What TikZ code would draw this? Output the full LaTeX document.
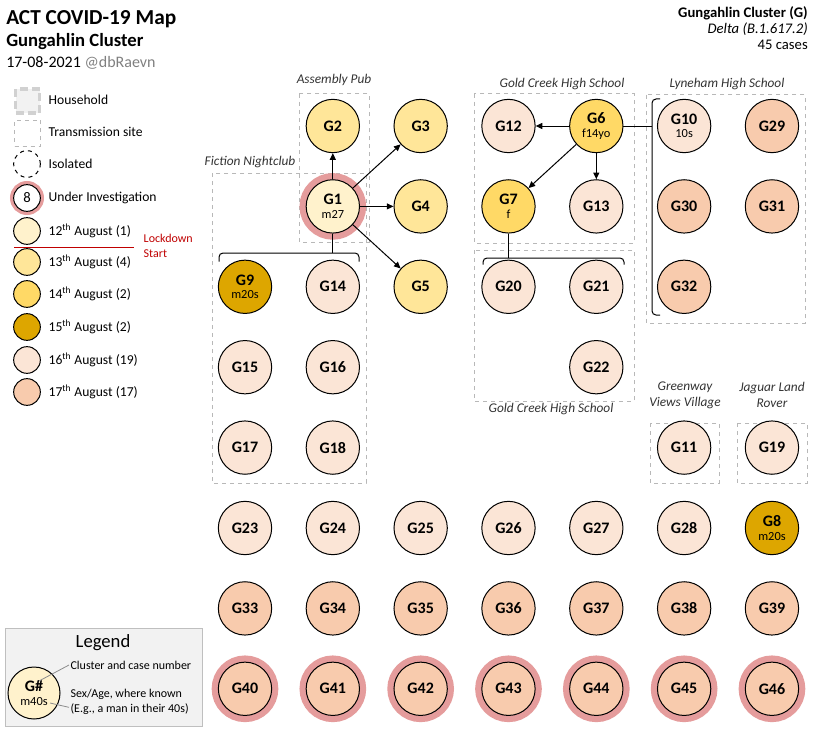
\documentclass[tikz,border=0pt]{standalone}
\usepackage{fontspec}
\setmainfont{Carlito}
\usetikzlibrary{arrows.meta}
\definecolor{c12}{HTML}{FFF2CC}
\definecolor{c13}{HTML}{FFE699}
\definecolor{c14}{HTML}{FFD966}
\definecolor{c15}{HTML}{DDA600}
\definecolor{c16}{HTML}{FBE5D6}
\definecolor{c17}{HTML}{F8CBAD}
\definecolor{ringc}{HTML}{E59C9C}
\definecolor{lockred}{HTML}{C00000}
\newcommand\casetext[2]{#1\\[-1pt]{\normalfont\fontsize{9.3}{10}\selectfont #2}}
\newcommand\myfs[1]{\fontsize{#1}{#1}\selectfont}
\def\xsep{65.87pt}
\def\ysep{60.3pt}

\begin{document}
\begin{tikzpicture}[
    x=0.75pt, y=-0.75pt,
    case/.style={
      circle, draw, line width=0.75pt, minimum size=40pt, inner sep=0pt,
      align=center, font=\fontsize{12}{11}\selectfont\bfseries
    },
    d12/.style={case, fill=c12},
    d13/.style={case, fill=c13},
    d14/.style={case, fill=c14},
    d15/.style={case, fill=c15},
    d16/.style={case, fill=c16},
    d17/.style={case, fill=c17},
    underinv/.style={preaction={draw=ringc, line width=10pt}},
    keydot/.style={circle, draw, line width=0.75pt, minimum size=20pt, inner sep=0pt},
    keytext/.style={anchor=west, font=\fontsize{10.2}{12}\selectfont},
    arrowtip/.style={
      -{Triangle[length=5pt,width=4.5pt]}, line width=0.75pt
    },
    link/.style={line width=0.75pt},
    bracket/.style={line width=0.75pt, rounded corners=3pt},
    site/.style={draw=black!28, dashed, line width=0.75pt},
    sitelabel/.style={font=\fontsize{10}{12}\selectfont\itshape, text=black!80, align=center},
    pointer/.style={draw=black!45, line width=0.6pt}
  ]
    \useasboundingbox[fill=white] (0,0) rectangle (814,735);

    % titles
    \node[anchor=base west, inner sep=0pt, font=\myfs{16}\bfseries] (title) at (6,25) {ACT COVID-19 Map};
    \node[anchor=base west, inner sep=0pt, font=\myfs{14}\bfseries] (subtitle) at (6,47) {Gungahlin Cluster};
    \node[anchor=base west, inner sep=0pt, font=\myfs{12}] (date) at (6,68) {17-08-2021 \textcolor{black!50}{@dbRaevn}};
    \node[anchor=base east, inner sep=0pt, font=\myfs{11}\bfseries] (clname) at (808,18) {Gungahlin Cluster (G)};
    \node[anchor=base east, inner sep=0pt, font=\myfs{11}\itshape] (variant) at (808,34) {Delta (B.1.617.2)};
    \node[anchor=base east, inner sep=0pt, font=\myfs{11}] (count) at (808,50) {45 cases};

    % key
    \node[rectangle, minimum size=18pt, inner sep=0pt, fill=black!5, draw=black!18, line width=2.4pt, dash pattern=on 6pt off 3pt] (keyHouse) at (27.5,101) {};
    \node[rectangle, minimum size=19.5pt, inner sep=0pt, site] (keySite) at (27.5,133) {};
    \node[keydot, dashed] (keyIso) at (27,164) {};
    \node[keydot, fill=white, preaction={draw=ringc, line width=5.5pt}, font=\myfs{11}] (keyInv) at (27,198) {8};
    \node[keydot, fill=c12] (key12) at (27,231) {};
    \node[keydot, fill=c13] (key13) at (27,262) {};
    \node[keydot, fill=c14] (key14) at (27,294) {};
    \node[keydot, fill=c15] (key15) at (27,327) {};
    \node[keydot, fill=c16] (key16) at (27,360) {};
    \node[keydot, fill=c17] (key17) at (27,392) {};

    \node[keytext] at (44,100) {Household};
    \node[keytext] at (44,132) {Transmission site};
    \node[keytext] at (44,164) {Isolated};
    \node[keytext] at (44,198) {Under Investigation};
    \node[keytext] at (44,231) {12\textsuperscript{th} August (1)};
    \node[keytext] at (44,262) {13\textsuperscript{th} August (4)};
    \node[keytext] at (44,294) {14\textsuperscript{th} August (2)};
    \node[keytext] at (44,327) {15\textsuperscript{th} August (2)};
    \node[keytext] at (44,360) {16\textsuperscript{th} August (19)};
    \node[keytext] at (44,392) {17\textsuperscript{th} August (17)};

    \draw[lockred, line width=0.75pt] (14,247) -- (134,247);
    \node[anchor=west, align=left, text=lockred, font=\fontsize{9}{11}\selectfont] (lockdown) at (139,246) {Lockdown\\Start};

    % sites
    \draw[site] (299,94) rectangle (369,242);
    \draw[site] (212,173) rectangle (366,483);
    \draw[site] (474,94) rectangle (634,243);
    \draw[site] (474,250) rectangle (634,401);
    \draw[site] (646,95) rectangle (805,323);
    \draw[site] (650,423) rectangle (719,483);
    \draw[site] (737,423) rectangle (807,483);

    \node[sitelabel] at (334,80) {Assembly Pub};
    \node[sitelabel] at (250,162) {Fiction Nightclub};
    \node[sitelabel] at (562,84) {Gold Creek High School};
    \node[sitelabel] at (551,409) {Gold Creek High School};
    \node[sitelabel] at (727,84) {Lyneham High School};
    \node[sitelabel] at (685,395) {Greenway\\Views Village};
    \node[sitelabel] at (772,395) {Jaguar Land\\Rover};

    % cases
    \begin{scope}[shift={(245,126)}]
    \node[d13] (G2)  at (1*\xsep, 0*\ysep) {G2};
    \node[d13] (G3)  at (2*\xsep, 0*\ysep) {G3};
    \node[d16] (G12) at (3*\xsep, 0*\ysep) {G12};
    \node[d14] (G6)  at (4*\xsep, 0*\ysep) {\casetext{G6}{f14yo}};
    \node[d16] (G10) at (5*\xsep, 0*\ysep) {\casetext{G10}{10s}};
    \node[d17] (G29) at (6*\xsep, 0*\ysep) {G29};

    \node[d12, underinv] (G1) at (1*\xsep,-1*\ysep) {\casetext{G1}{m27}};
    \node[d13] (G4)  at (2*\xsep,-1*\ysep) {G4};
    \node[d14] (G7)  at (3*\xsep,-1*\ysep) {\casetext{G7}{f}};
    \node[d16] (G13) at (4*\xsep,-1*\ysep) {G13};
    \node[d17] (G30) at (5*\xsep,-1*\ysep) {G30};
    \node[d17] (G31) at (6*\xsep,-1*\ysep) {G31};

    \node[d15] (G9)  at (0*\xsep,-2*\ysep) {\casetext{G9}{m20s}};
    \node[d16] (G14) at (1*\xsep,-2*\ysep) {G14};
    \node[d13] (G5)  at (2*\xsep,-2*\ysep) {G5};
    \node[d16] (G20) at (3*\xsep,-2*\ysep) {G20};
    \node[d16] (G21) at (4*\xsep,-2*\ysep) {G21};
    \node[d17] (G32) at (5*\xsep,-2*\ysep) {G32};

    \node[d16] (G15) at (0*\xsep,-3*\ysep) {G15};
    \node[d16] (G16) at (1*\xsep,-3*\ysep) {G16};
    \node[d16] (G22) at (4*\xsep,-3*\ysep) {G22};

    \node[d16] (G17) at (0*\xsep,-4*\ysep) {G17};
    \node[d16] (G18) at (1*\xsep,-4*\ysep) {G18};
    \node[d16] (G11) at (5*\xsep,-4*\ysep) {G11};
    \node[d16] (G19) at (6*\xsep,-4*\ysep) {G19};

    \node[d16] (G23) at (0*\xsep,-5*\ysep) {G23};
    \node[d16] (G24) at (1*\xsep,-5*\ysep) {G24};
    \node[d16] (G25) at (2*\xsep,-5*\ysep) {G25};
    \node[d16] (G26) at (3*\xsep,-5*\ysep) {G26};
    \node[d16] (G27) at (4*\xsep,-5*\ysep) {G27};
    \node[d16] (G28) at (5*\xsep,-5*\ysep) {G28};
    \node[d15] (G8)  at (6*\xsep,-5*\ysep) {\casetext{G8}{m20s}};

    \node[d17] (G33) at (0*\xsep,-6*\ysep) {G33};
    \node[d17] (G34) at (1*\xsep,-6*\ysep) {G34};
    \node[d17] (G35) at (2*\xsep,-6*\ysep) {G35};
    \node[d17] (G36) at (3*\xsep,-6*\ysep) {G36};
    \node[d17] (G37) at (4*\xsep,-6*\ysep) {G37};
    \node[d17] (G38) at (5*\xsep,-6*\ysep) {G38};
    \node[d17] (G39) at (6*\xsep,-6*\ysep) {G39};

    \node[d17, underinv] (G40) at (0*\xsep,-7*\ysep) {G40};
    \node[d17, underinv] (G41) at (1*\xsep,-7*\ysep) {G41};
    \node[d17, underinv] (G42) at (2*\xsep,-7*\ysep) {G42};
    \node[d17, underinv] (G43) at (3*\xsep,-7*\ysep) {G43};
    \node[d17, underinv] (G44) at (4*\xsep,-7*\ysep) {G44};
    \node[d17, underinv] (G45) at (5*\xsep,-7*\ysep) {G45};
    \node[d17, underinv] (G46) at (6*\xsep,-7*\ysep) {G46};
    \end{scope}

    % spread
    \draw[arrowtip] (G1) -- (G2);
    \draw[arrowtip] (G1) -- (G3);
    \draw[arrowtip] (G1) -- (G4);
    \draw[arrowtip] (G1) -- (G5);
    \draw[arrowtip] (G6) -- (G12);
    \draw[arrowtip] (G6) -- (G7);
    \draw[arrowtip] (G6) -- (G13);

    \coordinate (nightBar)    at (219,253);
    \coordinate (nightBarEnd) at (359,253);
    \coordinate (goldBar)     at (483,258);
    \coordinate (goldBarEnd)  at (624,258);
    \coordinate (lynBar)      at (652,99);
    \coordinate (lynBarEnd)   at (652,315);

    \draw[bracket] ([yshift=-6.5pt]nightBar) -- (nightBar) -- (nightBarEnd) -- ([yshift=-6.5pt]nightBarEnd);
    \draw[bracket] ([yshift=-5pt]goldBar) -- (goldBar) -- (goldBarEnd) -- ([yshift=-5pt]goldBarEnd);
    \draw[bracket] ([xshift=6pt]lynBar) -- (lynBar) -- (lynBarEnd) -- ([xshift=6pt]lynBarEnd);
    \draw[link] (G1) -- (G1 |- nightBar);
    \draw[link] (G7) -- (G7 |- goldBar);
    \draw[link] (G6) -- (G6 -| lynBar);

    % legend
    \draw[draw=black!25, fill=black!5, line width=0.75pt] (5,628) rectangle (202,726);
    \node[font=\myfs{14}] (legTitle) at (103,643) {Legend};
    \node[d12, minimum size=39pt] (legCase) at (34,693) {\casetext{G\#}{m40s}};
    \node[anchor=west, inner sep=1pt, font=\fontsize{9}{11}\selectfont] (legNum) at (69,665) {Cluster and case number};
    \node[anchor=west, inner sep=1pt, align=left, font=\fontsize{9}{11}\selectfont] (legAge) at (69,702) {Sex/Age, where known\\(E.g., a man in their 40s)};
    \coordinate (legNumEnd) at (39,681);
    \coordinate (legAgeEnd) at (50,703);
    \draw[pointer] (legNum.west) -- (legNumEnd);
    \draw[pointer] ([yshift=-4pt]legAge.west) -- (legAgeEnd);
  \end{tikzpicture}
\end{document}
